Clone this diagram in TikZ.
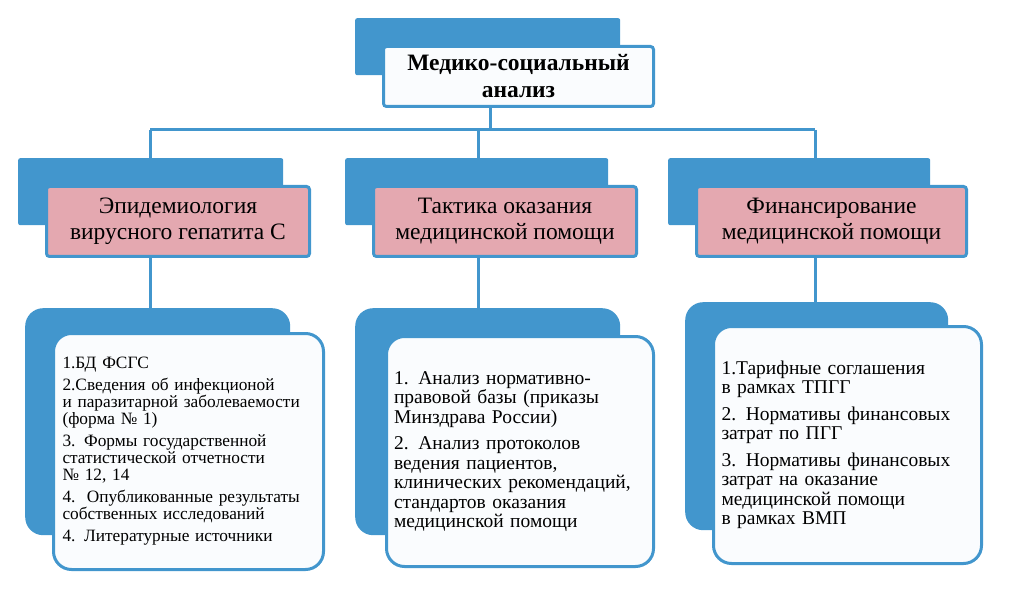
\documentclass[tikz,border=0pt]{standalone}
\usepackage{fontspec}
\setmainfont{Liberation Serif}
\usetikzlibrary{positioning}
\definecolor{bluebk}{RGB}{66,150,205}
\definecolor{pinkfill}{RGB}{228,168,176}
\definecolor{frontfill}{RGB}{250,252,254}
\begin{document}
\begin{tikzpicture}[x=1pt,y=-1pt,
  back/.style={fill=bluebk, draw=none, rounded corners=2pt, anchor=north west,
    inner sep=0pt},
  front/.style={fill=frontfill, draw=bluebk, line width=3pt, rounded corners=3pt,
    anchor=north west, inner sep=0pt, align=center},
  head/.style={front, fill=pinkfill, font=\fontsize{23.5}{26}\selectfont},
  listbox/.style={front, rounded corners=18pt, align=left,
    font=\fontsize{17.3}{17}\selectfont, text width=252pt},
  biglist/.style={listbox, font=\fontsize{19.5}{19.5}\selectfont},
  lback/.style={back, rounded corners=18pt},
  link/.style={draw=bluebk, line width=3pt}]
  \useasboundingbox (0,0) rectangle (1011,593);
  % top block
  \node[back, minimum width=265pt, minimum height=57pt] (topb) at (355,18) {};
  \node[front, minimum width=270pt, minimum height=60pt,
    font=\bfseries\fontsize{23.5}{27}\selectfont] (top) at (382,45)
    {Медико-социальный\\анализ};
  % second level
  \node[back, minimum width=265pt, minimum height=67pt] (epib) at (18,158) {};
  \node[back, minimum width=263pt, minimum height=67pt] (takb) at (345,158) {};
  \node[back, minimum width=262pt, minimum height=67pt] (finb) at (668,158) {};
  \node[head, minimum width=263pt, minimum height=70pt] (epi) at (45,185)
    {Эпидемиология\\вирусного гепатита С};
  \node[head, minimum width=263pt, minimum height=70pt] (tak) at (372,185)
    {Тактика оказания\\медицинской помощи};
  \node[head, minimum width=270pt, minimum height=70pt] (fin) at (695,185)
    {Финансирование\\медицинской помощи};
  % third level
  \node[lback, minimum width=265pt, minimum height=227pt] (l1b) at (25,308) {};
  \node[lback, minimum width=265pt, minimum height=227pt] (l2b) at (355,308) {};
  \node[lback, minimum width=263pt, minimum height=228pt] (l3b) at (685,302) {};
  \node[listbox, minimum width=270pt, minimum height=236pt] (l1) at (52,332)
    {1.БД ФСГС\\[5pt]
     2.Сведения об инфекционой\\и паразитарной заболеваемости\\(форма № 1)\\[5pt]
     3. Формы государственной\\статистической отчетности\\№ 12, 14\\[5pt]
     4.\ \ Опубликованные результаты\\собственных исследований\\[5pt]
     4. Литературные источники};
  \node[biglist, minimum width=267pt, minimum height=230pt] (l2) at (385,335)
    {1. Анализ нормативно-\\правовой базы (приказы\\Минздрава России)\\[7pt]
     2. Анализ протоколов\\ведения пациентов,\\клинических рекомендаций,\\
     стандартов оказания\\медицинской помощи};
  \node[biglist, minimum width=268pt, minimum height=237pt] (l3) at (712,325)
    {1.Тарифные соглашения\\в рамках ТПГГ\\[7pt]
     2. Нормативы финансовых\\затрат по ПГГ\\[7pt]
     3. Нормативы финансовых\\затрат на оказание\\медицинской помощи\\в рамках ВМП};
  % connectors
  \coordinate (bus) at (490,130);
  \draw[link] (top.south -| bus) -- (bus);
  \draw[link] (150,130) -- (815,130);
  \draw[link] (150,130) -- (epib.north -| 150,0);
  \draw[link] (478,130) -- (takb.north -| 478,0);
  \draw[link] (815,130) -- (finb.north -| 815,0);
  \draw[link] (epi.south -| 150,0) -- (l1b.north -| 150,0);
  \draw[link] (tak.south -| 478,0) -- (l2b.north -| 478,0);
  \draw[link] (fin.south -| 815,0) -- (l3b.north -| 815,0);
\end{tikzpicture}
\end{document}
